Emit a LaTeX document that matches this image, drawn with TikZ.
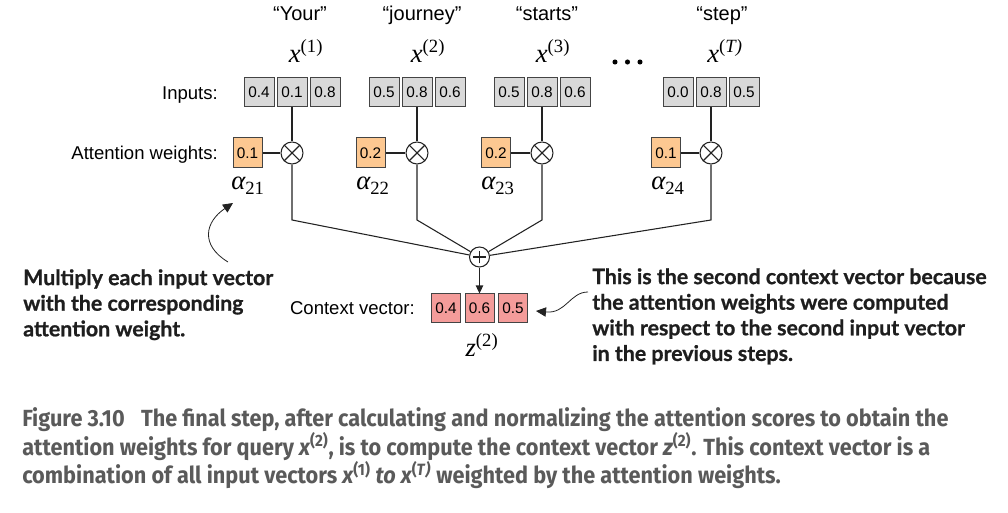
\documentclass[tikz,border=0pt]{standalone}
\usepackage{fontspec}
\setmainfont{Liberation Sans}
\newfontfamily\serifrm{Liberation Serif}
\newfontfamily\annfont[BoldFeatures={FakeBold=0.8}]{Lato}
\newfontfamily\capfont[FakeStretch=0.93]{Fira Sans}
\usetikzlibrary{arrows.meta}
\definecolor{grayfill}{HTML}{D9D9D9}
\definecolor{orangefill}{HTML}{FDC891}
\definecolor{pinkfill}{HTML}{F49C9A}
\definecolor{boxborder}{HTML}{444444}
\definecolor{lineclr}{HTML}{222222}
\definecolor{capclr}{HTML}{5A5A5A}
\definecolor{anncolor}{HTML}{1E1E1E}
\newcommand\vx[1]{{\serifrm\itshape x}\textsuperscript{\serifrm(#1)}}
\newcommand\wa[1]{{\serifrm\itshape α}\textsubscript{\serifrm #1}}
\tikzset{
  conn/.style={draw=lineclr, line width=0.8pt},
  vbox/.style={draw=boxborder, line width=0.75pt, inner sep=0pt, font=\fontsize{11.5pt}{13pt}\selectfont},
  inbox/.style={vbox, fill=grayfill, minimum width=22.5pt, minimum height=21.75pt},
  wbox/.style={vbox, fill=orangefill, minimum width=21.75pt, minimum height=22.5pt},
  cbox/.style={vbox, fill=pinkfill, minimum width=21.75pt, minimum height=21.75pt},
  mulnode/.style={circle, draw=lineclr, line width=0.8pt, fill=white, minimum size=16.5pt, inner sep=0pt,
    path picture={\draw[lineclr, line width=0.8pt] (path picture bounding box.north west) -- (path picture bounding box.south east)
      (path picture bounding box.north east) -- (path picture bounding box.south west);}},
  addnode/.style={circle, draw=lineclr, line width=0.8pt, fill=white, minimum size=15pt, inner sep=0pt,
    path picture={\draw[lineclr, line width=0.8pt] ([xshift=-4.8pt]path picture bounding box.center) -- ([xshift=4.8pt]path picture bounding box.center)
      ([yshift=-4.8pt]path picture bounding box.center) -- ([yshift=4.8pt]path picture bounding box.center);}},
  qlab/.style={anchor=base, inner sep=0pt, font=\fontsize{15pt}{17pt}\selectfont},
  mlab/.style={anchor=base, inner sep=0pt, font=\fontsize{20pt}{22pt}\selectfont},
  rowlab/.style={anchor=base east, inner sep=0pt, font=\fontsize{13.9pt}{16pt}\selectfont},
  anntext/.style={anchor=north west, inner sep=0pt, align=left, text=anncolor,
    font=\annfont\bfseries\fontsize{16pt}{19.2pt}\selectfont},
  captext/.style={anchor=north west, inner sep=0pt, align=left, text=capclr,
    font=\capfont\bfseries\fontsize{17.5pt}{19.9pt}\selectfont},
  curvarrow/.style={draw=lineclr, line width=0.6pt, -{Triangle[length=7.5pt,width=7pt]}},
  downarrow/.style={draw=lineclr, line width=0.8pt, -{Triangle[length=6pt,width=5.5pt]}}
}
\begin{document}
\begin{tikzpicture}[x=0.75pt,y=-0.75pt]
\useasboundingbox[fill=white] (0,0) rectangle (1008,513);

% word labels
\node[qlab] (q1) at (300,21) {“Your”};
\node[qlab] (q2) at (422,21) {“journey”};
\node[qlab] (q3) at (547,21) {“starts”};
\node[qlab] (q4) at (722,21) {“step”};

% vector labels
\node[mlab] (x1) at (306,63) {\vx{1}};
\node[mlab] (x2) at (428,63) {\vx{2}};
\node[mlab] (x3) at (553,63) {\vx{3}};
\node[mlab] (xT) at (725,63) {\vx{\itshape T}};

% dots
\fill[black] (615,62) circle (1.9pt) (627.5,62) circle (1.9pt) (640,62) circle (1.9pt);

% row labels
\node[rowlab] (lin) at (218,99.5) {Inputs:};
\node[rowlab] (lat) at (218,159.5) {Attention weights:};
\node[rowlab] (lcv) at (415,314.5) {Context vector:};

% input boxes
\node[inbox] (b11) at (259,92.5) {0.4};
\node[inbox] (b12) at (292,92.5) {0.1};
\node[inbox] (b13) at (325,92.5) {0.8};
\node[inbox] (b21) at (384,92.5) {0.5};
\node[inbox] (b22) at (417,92.5) {0.8};
\node[inbox] (b23) at (450,92.5) {0.6};
\node[inbox] (b31) at (509,92.5) {0.5};
\node[inbox] (b32) at (542,92.5) {0.8};
\node[inbox] (b33) at (575,92.5) {0.6};
\node[inbox] (b41) at (678,92.5) {0.0};
\node[inbox] (b42) at (711,92.5) {0.8};
\node[inbox] (b43) at (744,92.5) {0.5};

% weights
\node[wbox] (w1) at (247.5,153) {0.1};
\node[wbox] (w2) at (370.5,153) {0.2};
\node[wbox] (w3) at (496,153) {0.2};
\node[wbox] (w4) at (666,153) {0.1};

\node[mlab] (a1) at (248,190) {\wa{21}};
\node[mlab] (a2) at (373,190) {\wa{22}};
\node[mlab] (a3) at (498,190) {\wa{23}};
\node[mlab] (a4) at (668,190) {\wa{24}};

% multiply nodes
\node[mulnode] (m1) at (292,153) {};
\node[mulnode] (m2) at (417,153) {};
\node[mulnode] (m3) at (542,153) {};
\node[mulnode] (m4) at (711,153) {};

% sum node
\node[addnode] (plus) at (479.5,257) {};

\coordinate (k1) at (292,220);
\coordinate (k2) at (417,220);
\coordinate (k3) at (542,220);
\coordinate (k4) at (711,220);

\foreach \i in {1,2,3,4}{
  \draw[conn] (b\i2.south) -- (m\i.north);
  \draw[conn] (w\i.east) -- (m\i.west);
  \draw[conn] (m\i.south) -- (k\i) -- (plus);
}

% context vector
\node[cbox] (c1) at (446,308.5) {0.4};
\node[cbox] (c2) at (479.5,308.5) {0.6};
\node[cbox] (c3) at (513,308.5) {0.5};
\draw[downarrow] (plus.south) -- (c2.north);

\node[mlab] (z2) at (482,357) {{\serifrm\itshape z}\textsuperscript{\serifrm(2)}};

% annotations
\node[anntext] (ann1) at (23,269) {Multiply each input vector\\with the corresponding\\attention weight.};
\node[anntext] (ann2) at (592,268) {This is the second context vector because\\the attention weights were computed\\with respect to the second input vector\\in the previous steps.};

\coordinate (la0) at (228,262);
\coordinate (la1) at (233,203);
\draw[curvarrow] (la0) .. controls (200,245) and (205,222) .. (la1);

\coordinate (ra0) at (588,292);
\coordinate (ra1) at (536,311);
\draw[curvarrow] (ra0) .. controls (570,292) and (566,314) .. (ra1);

% caption
\node[captext] (cap) at (22,407) {Figure 3.10\hspace{0.7em}The final step, after calculating and normalizing the attention scores to obtain the\\attention weights for query {\itshape x}\textsuperscript{(2)}, is to compute the context vector {\itshape z}\textsuperscript{(2)}. This context vector is a\\combination of all input vectors {\itshape x}\textsuperscript{(1)} {\itshape to x}\textsuperscript{(\itshape T\/)} weighted by the attention weights.};
\end{tikzpicture}
\end{document}
